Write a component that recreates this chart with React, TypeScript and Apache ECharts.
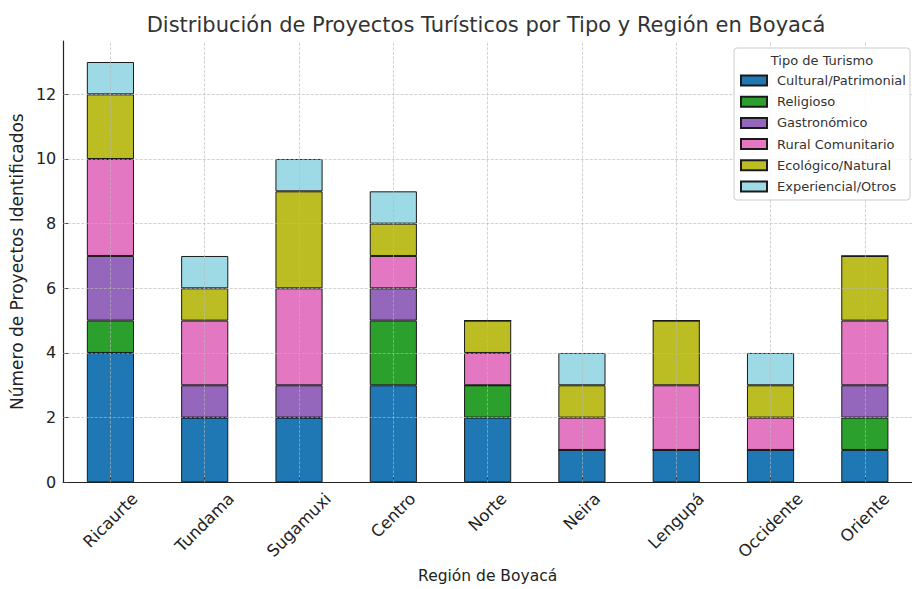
import React, { useEffect, useRef } from "react";
import * as echarts from "echarts";

const categories = ["Ricaurte", "Tundama", "Sugamuxi", "Centro", "Norte", "Neira", "Lengupá", "Occidente", "Oriente"];
const seriesNames = ["Cultural/Patrimonial", "Religioso", "Gastronómico", "Rural Comunitario", "Ecológico/Natural", "Experiencial/Otros"];
const cultural = [4, 2, 2, 3, 2, 1, 1, 1, 1];
const religioso = [1, 0, 0, 2, 1, 0, 0, 0, 1];
const gastronomico = [2, 1, 1, 1, 0, 0, 0, 0, 1];
const rural = [3, 2, 3, 1, 1, 1, 2, 1, 2];
const ecologico = [2, 1, 3, 1, 1, 1, 2, 1, 2];
const experiencial = [1, 1, 1, 1, 0, 1, 0, 1, 0];
const yTicks = [0, 2, 4, 6, 8, 10, 12];

const colors = ["#1f77b4", "#2ca02c", "#9467bd", "#e377c2", "#bcbd22", "#9edae5"];
const FONT = "DejaVu Sans";
const XTICK_FS = 16.5;
const YTICK_FS = 16;

export default function App() {
  const ref = useRef<HTMLDivElement>(null);
  useEffect(() => {
    document.body.style.margin = "0";
    if (!ref.current) return;
    const chart = echarts.init(ref.current, undefined, { renderer: "svg" });

    const canvas = document.createElement("canvas");
    const ctx = canvas.getContext("2d")!;
    ctx.font = `${XTICK_FS}px "${FONT}"`;
    const widths = categories.map((c) => ctx.measureText(c).width);
    const Lmax = Math.max(...widths);
    const rich: any = {};
    widths.forEach((w, i) => {
      const p = (Lmax - w) / 2;
      rich["c" + i] = { fontSize: XTICK_FS, fontFamily: FONT, color: "#222", padding: [0, 0, p, p] };
    });
    const h = XTICK_FS * 1.15;
    const labelMargin = 7 + (Lmax + h) / (2 * Math.SQRT2);

    const dataSets = [cultural, religioso, gastronomico, rural, ecologico, experiencial];
    const gridStyle = { color: "#b8b8b8", type: [3, 1.5] as any, width: 0.8, opacity: 0.8 };

    const series: any[] = dataSets.map((d, i) => ({
      name: seriesNames[i],
      type: "bar",
      stack: "total",
      barWidth: "50%",
      data: d,
      itemStyle: { color: colors[i], borderColor: "#1a1a1a", borderWidth: 1 },
      emphasis: { disabled: true },
    }));
    series[series.length - 1].markLine = {
      silent: true,
      symbol: ["none", "none"],
      label: { show: false },
      lineStyle: gridStyle,
      emphasis: { disabled: true },
      data: [
        ...yTicks.filter((v) => v > 0).map((v) => ({ yAxis: v })),
        ...categories.map((c) => ({ xAxis: c })),
      ],
    };

    chart.setOption({
      animation: false,
      textStyle: { fontFamily: FONT },
      grid: { left: 56, top: 41, width: 860, height: 448, containLabel: false },
      graphic: [
        {
          type: "text",
          x: 486,
          y: 25,
          z: 30,
          style: {
            text: "Distribución de Proyectos Turísticos por Tipo y Región en Boyacá",
            font: `21px "${FONT}"`,
            fill: "#333",
            align: "center",
            verticalAlign: "middle",
          },
        },
        {
          type: "rect",
          z: 15,
          shape: { x: 734, y: 48, width: 176, height: 152, r: 3 },
          style: { fill: "rgba(255,255,255,0.85)", stroke: "#cccccc", lineWidth: 1 },
        },
        {
          type: "text",
          x: 822,
          y: 60,
          z: 30,
          style: {
            text: "Tipo de Turismo",
            font: `13px "${FONT}"`,
            fill: "#333",
            align: "center",
            verticalAlign: "middle",
          },
        },
      ],
      legend: {
        orient: "vertical",
        left: 740,
        top: 70,
        padding: 0,
        itemWidth: 26,
        itemHeight: 10,
        itemGap: 0.2,
        z: 20,
        icon: "rect",
        selectedMode: false,
        textStyle: { fontSize: 13, color: "#333", lineHeight: 21, padding: [0, 0, 0, 5], fontFamily: FONT },
        data: seriesNames,
      },
      xAxis: {
        type: "category",
        data: categories,
        z: 3,
        name: "Región de Boyacá",
        nameLocation: "middle",
        nameGap: 85,
        nameTextStyle: { fontSize: 15.5, color: "#222", fontFamily: FONT },
        axisLine: { lineStyle: { color: "#222", width: 1.2 } },
        axisTick: { show: true, inside: true, length: 5, alignWithLabel: true, lineStyle: { color: "#222" } },
        axisLabel: {
          interval: 0,
          rotate: 45,
          align: "center",
          verticalAlign: "middle",
          margin: labelMargin,
          formatter: (v: string) => `{c${categories.indexOf(v)}|${v}}`,
          rich,
        },
        splitLine: { show: false },
      },
      yAxis: {
        type: "value",
        min: 0,
        max: 13.65,
        interval: 2,
        z: 3,
        name: "Número de Proyectos Identificados",
        nameLocation: "middle",
        nameGap: 28,
        nameTextStyle: { fontSize: 17, color: "#222", fontFamily: FONT },
        axisLine: { show: true, lineStyle: { color: "#222", width: 1.2 } },
        axisTick: { show: true, inside: true, length: 5, lineStyle: { color: "#333" } },
        axisLabel: { fontSize: YTICK_FS, color: "#222", margin: 7, showMaxLabel: false },
        splitLine: { show: false },
      },
      series,
    });
    return () => chart.dispose();
  }, []);
  return <div ref={ref} style={{ position: "absolute", left: 0, top: 0, width: 912, height: 589 }} />;
}
